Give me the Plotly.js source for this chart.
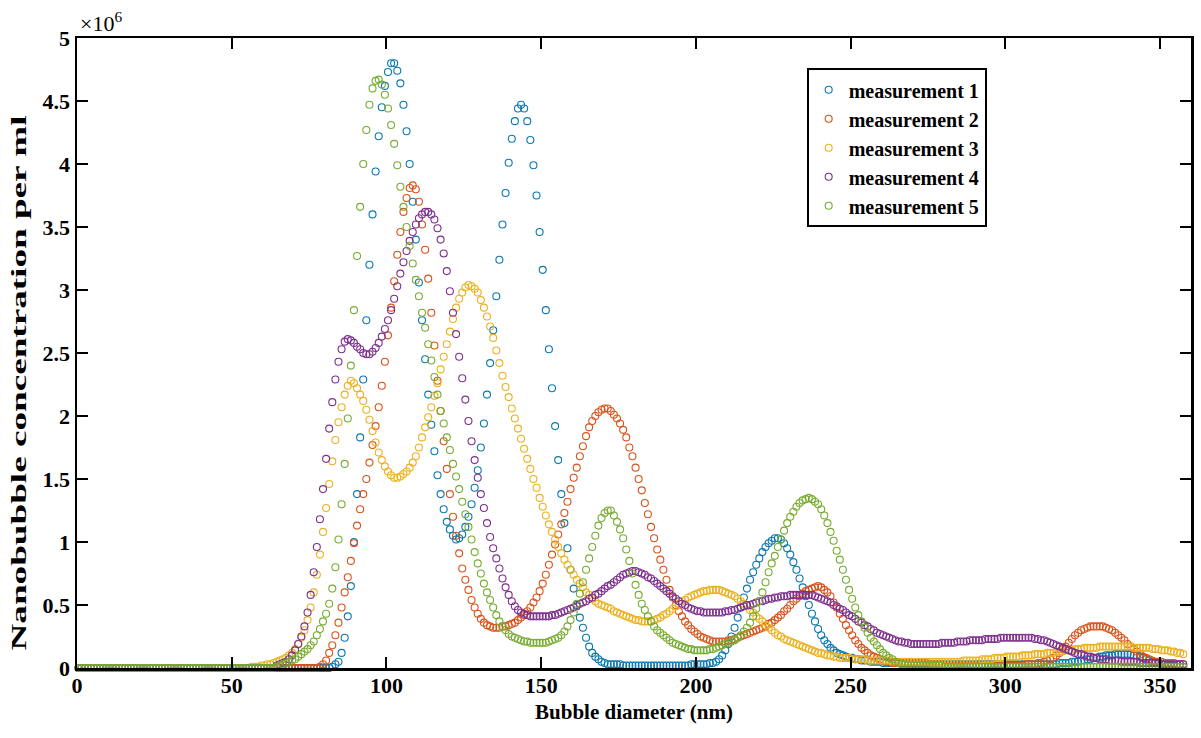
<!DOCTYPE html>
<html>
<head>
<meta charset="utf-8">
<script src="https://cdn.plot.ly/plotly-3.0.1.min.js"></script>
<style>
  html, body { margin: 0; padding: 0; background: #ffffff; }
  #chart { width: 1201px; height: 738px; }
</style>
</head>
<body>
<div id="chart"></div>
<script>
// Bubble diameter bins (nm): first bin centre and bin width
const DIAMETER_START = 0.5;
const DIAMETER_STEP = 1;

const seriesNames = ["measurement 1", "measurement 2", "measurement 3", "measurement 4", "measurement 5"];
const seriesColors = ["#0a78b0", "#D95319", "#EDB120", "#7E2F8E", "#77AC30"];

// Concentration values in units of 10^6 per ml, one value per 1 nm bin
const measurement1 = [
0,0,0,0,0,0,0,0,0,0,
0,0,0,0,0,0,0,0,0,0,
0,0,0,0,0,0,0,0,0,0,
0,0,0,0,0,0,0,0,0,0,
0,0,0,0,0,0,0,0,0,0,
0,0,0,0,0,0,0,0,0,0,
0,0,0,0,0,0,0,0,0,0,
0,0,0,0,0,0,0,0,0,0,
0,0,0.01,0.03,0.05,0.12,0.24,0.41,0.65,1.00,
1.38,1.83,2.29,2.76,3.20,3.60,3.94,4.22,4.45,4.62,
4.73,4.80,4.80,4.74,4.64,4.47,4.26,4.00,3.70,3.40,
3.06,2.76,2.45,2.17,1.93,1.72,1.53,1.38,1.26,1.16,
1.10,1.05,1.02,1.03,1.06,1.12,1.20,1.30,1.43,1.57,
1.75,1.94,2.17,2.42,2.68,2.95,3.24,3.52,3.77,4.01,
4.20,4.34,4.44,4.47,4.44,4.34,4.19,3.99,3.75,3.46,
3.16,2.84,2.53,2.22,1.92,1.65,1.38,1.15,0.95,0.78,
0.63,0.50,0.40,0.32,0.24,0.17,0.12,0.09,0.07,0.05,
0.04,0.03,0.03,0.03,0.03,0.03,0.02,0.02,0.02,0.02,
0.02,0.02,0.02,0.02,0.02,0.02,0.02,0.02,0.02,0.02,
0.02,0.02,0.02,0.02,0.02,0.02,0.02,0.02,0.03,0.03,
0.03,0.03,0.03,0.03,0.04,0.04,0.05,0.07,0.10,0.14,
0.19,0.25,0.32,0.40,0.48,0.56,0.63,0.70,0.76,0.82,
0.87,0.92,0.96,0.99,1.01,1.03,1.03,1.02,0.99,0.95,
0.90,0.84,0.78,0.71,0.64,0.57,0.50,0.43,0.37,0.31,
0.26,0.22,0.19,0.16,0.14,0.12,0.11,0.10,0.09,0.08,
0.08,0.07,0.07,0.06,0.06,0.06,0.05,0.05,0.05,0.05,
0.04,0.04,0.04,0.04,0.04,0.04,0.04,0.04,0.04,0.04,
0.04,0.04,0.04,0.04,0.04,0.03,0.03,0.03,0.03,0.03,
0.03,0.03,0.03,0.03,0.03,0.03,0.03,0.03,0.03,0.03,
0.03,0.03,0.03,0.03,0.03,0.03,0.03,0.03,0.03,0.03,
0.03,0.03,0.03,0.03,0.03,0.03,0.03,0.03,0.03,0.03,
0.03,0.03,0.03,0.03,0.03,0.03,0.03,0.04,0.04,0.04,
0.04,0.05,0.05,0.05,0.06,0.06,0.07,0.07,0.08,0.08,
0.09,0.09,0.10,0.10,0.10,0.11,0.11,0.11,0.11,0.11,
0.11,0.10,0.10,0.09,0.08,0.07,0.06,0.05,0.04,0.04,
0.03,0.03,0.02,0.02,0.02,0.01,0.01,0.01
];

const measurement2 = [
0,0,0,0,0,0,0,0,0,0,
0,0,0,0,0,0,0,0,0,0,
0,0,0,0,0,0,0,0,0,0,
0,0,0,0,0,0,0,0,0,0,
0,0,0,0,0,0,0,0,0,0,
0,0,0,0,0,0,0,0,0,0,
0,0,0,0,0,0,0,0,0,0,
0,0,0,0,0,0,0,0,0.01,0.03,
0.06,0.12,0.18,0.26,0.36,0.48,0.60,0.72,0.85,0.99,
1.13,1.26,1.38,1.50,1.63,1.77,1.92,2.07,2.24,2.43,
2.64,2.86,3.07,3.28,3.46,3.62,3.73,3.81,3.83,3.80,
3.70,3.52,3.32,3.09,2.82,2.56,2.28,2.04,1.80,1.58,
1.38,1.20,1.05,0.91,0.79,0.70,0.62,0.54,0.48,0.43,
0.39,0.36,0.34,0.33,0.32,0.32,0.32,0.33,0.33,0.34,
0.35,0.36,0.38,0.40,0.42,0.45,0.48,0.52,0.56,0.61,
0.67,0.74,0.82,0.90,0.98,1.06,1.14,1.23,1.32,1.42,
1.51,1.59,1.68,1.76,1.84,1.91,1.96,2.00,2.03,2.05,
2.06,2.06,2.04,2.01,1.98,1.94,1.89,1.83,1.75,1.68,
1.59,1.50,1.41,1.31,1.22,1.12,1.03,0.94,0.86,0.78,
0.70,0.62,0.56,0.50,0.45,0.41,0.37,0.34,0.31,0.29,
0.27,0.25,0.24,0.23,0.22,0.21,0.21,0.21,0.21,0.21,
0.22,0.22,0.23,0.24,0.25,0.26,0.27,0.28,0.29,0.30,
0.31,0.32,0.33,0.35,0.36,0.38,0.40,0.42,0.45,0.47,
0.50,0.53,0.55,0.57,0.59,0.61,0.62,0.63,0.64,0.65,
0.64,0.62,0.60,0.57,0.52,0.48,0.43,0.39,0.34,0.30,
0.26,0.22,0.19,0.16,0.14,0.12,0.10,0.09,0.08,0.07,
0.06,0.05,0.05,0.04,0.04,0.04,0.03,0.03,0.03,0.03,
0.03,0.03,0.03,0.03,0.03,0.03,0.03,0.03,0.03,0.03,
0.02,0.02,0.02,0.02,0.02,0.02,0.02,0.02,0.02,0.02,
0.02,0.02,0.02,0.02,0.02,0.02,0.02,0.02,0.02,0.02,
0.02,0.02,0.02,0.02,0.02,0.02,0.03,0.03,0.03,0.03,
0.04,0.04,0.05,0.06,0.07,0.08,0.10,0.12,0.15,0.17,
0.20,0.23,0.26,0.28,0.30,0.31,0.32,0.33,0.33,0.33,
0.33,0.33,0.32,0.31,0.30,0.28,0.26,0.24,0.22,0.19,
0.17,0.15,0.13,0.11,0.09,0.08,0.07,0.06,0.05,0.05,
0.05,0.04,0.04,0.04,0.04,0.03,0.03,0.03
];

const measurement3 = [
0,0,0,0,0,0,0,0,0,0,
0,0,0,0,0,0,0,0,0,0,
0,0,0,0,0,0,0,0,0,0,
0,0,0,0,0,0,0,0,0,0,
0,0,0,0,0,0,0,0,0,0,
0,0,0,0,0,0,0.01,0.01,0.01,0.02,
0.02,0.03,0.03,0.04,0.05,0.06,0.07,0.08,0.10,0.12,
0.15,0.19,0.24,0.30,0.38,0.48,0.60,0.74,0.90,1.08,
1.27,1.46,1.64,1.81,1.95,2.07,2.17,2.24,2.28,2.26,
2.22,2.17,2.12,2.05,1.97,1.88,1.79,1.71,1.65,1.60,
1.56,1.53,1.51,1.51,1.52,1.54,1.56,1.59,1.63,1.68,
1.75,1.83,1.91,1.99,2.07,2.16,2.26,2.37,2.47,2.57,
2.67,2.77,2.86,2.93,2.98,3.02,3.04,3.03,3.01,2.98,
2.92,2.86,2.79,2.71,2.62,2.52,2.42,2.32,2.23,2.15,
2.06,1.98,1.90,1.82,1.74,1.66,1.58,1.50,1.43,1.35,
1.28,1.21,1.14,1.08,1.02,0.96,0.91,0.86,0.82,0.78,
0.74,0.70,0.67,0.64,0.60,0.58,0.55,0.53,0.51,0.50,
0.49,0.48,0.47,0.45,0.44,0.43,0.42,0.41,0.40,0.39,
0.38,0.38,0.37,0.37,0.37,0.37,0.38,0.39,0.40,0.42,
0.43,0.45,0.47,0.49,0.51,0.53,0.54,0.56,0.57,0.58,
0.59,0.60,0.61,0.61,0.62,0.62,0.62,0.62,0.61,0.60,
0.59,0.58,0.57,0.55,0.53,0.51,0.49,0.46,0.44,0.41,
0.39,0.37,0.34,0.32,0.30,0.28,0.26,0.25,0.23,0.22,
0.21,0.20,0.19,0.18,0.17,0.16,0.15,0.14,0.13,0.12,
0.12,0.11,0.10,0.10,0.09,0.09,0.08,0.08,0.08,0.08,
0.07,0.07,0.07,0.07,0.07,0.06,0.06,0.06,0.06,0.06,
0.06,0.06,0.06,0.05,0.05,0.05,0.05,0.05,0.05,0.05,
0.05,0.05,0.05,0.05,0.05,0.05,0.05,0.05,0.05,0.05,
0.05,0.05,0.05,0.05,0.05,0.05,0.06,0.06,0.06,0.06,
0.06,0.06,0.07,0.07,0.07,0.07,0.08,0.08,0.08,0.08,
0.09,0.09,0.09,0.09,0.09,0.10,0.10,0.10,0.10,0.11,
0.11,0.11,0.11,0.12,0.12,0.12,0.13,0.13,0.13,0.14,
0.14,0.14,0.15,0.15,0.15,0.16,0.16,0.16,0.16,0.16,
0.17,0.17,0.17,0.17,0.17,0.17,0.17,0.17,0.17,0.17,
0.17,0.16,0.16,0.16,0.16,0.16,0.16,0.15,0.15,0.15,
0.14,0.14,0.14,0.13,0.13,0.12,0.12,0.11
];

const measurement4 = [
0,0,0,0,0,0,0,0,0,0,
0,0,0,0,0,0,0,0,0,0,
0,0,0,0,0,0,0,0,0,0,
0,0,0,0,0,0,0,0,0,0,
0,0,0,0,0,0,0,0,0,0,
0,0,0,0,0,0,0,0,0,0,
0,0,0,0,0.02,0.03,0.04,0.05,0.07,0.10,
0.14,0.19,0.25,0.33,0.44,0.58,0.76,0.96,1.18,1.42,
1.66,1.90,2.11,2.29,2.43,2.53,2.59,2.61,2.60,2.58,
2.55,2.53,2.50,2.49,2.49,2.51,2.54,2.58,2.63,2.69,
2.76,2.84,2.93,3.03,3.13,3.22,3.31,3.39,3.46,3.52,
3.57,3.60,3.62,3.62,3.60,3.56,3.49,3.40,3.29,3.15,
2.99,2.82,2.65,2.47,2.30,2.13,1.96,1.80,1.65,1.51,
1.38,1.27,1.15,1.04,0.95,0.87,0.79,0.71,0.64,0.58,
0.53,0.49,0.46,0.44,0.43,0.42,0.41,0.41,0.41,0.41,
0.41,0.41,0.41,0.42,0.42,0.43,0.44,0.45,0.46,0.47,
0.48,0.49,0.51,0.52,0.53,0.55,0.56,0.58,0.59,0.61,
0.63,0.65,0.66,0.68,0.70,0.72,0.74,0.75,0.76,0.77,
0.77,0.76,0.75,0.74,0.72,0.71,0.69,0.67,0.65,0.63,
0.61,0.59,0.57,0.55,0.53,0.51,0.50,0.48,0.47,0.46,
0.45,0.45,0.44,0.44,0.44,0.44,0.44,0.44,0.44,0.45,
0.45,0.46,0.46,0.47,0.48,0.49,0.50,0.50,0.51,0.52,
0.53,0.53,0.54,0.55,0.55,0.56,0.56,0.57,0.57,0.57,
0.58,0.58,0.58,0.58,0.58,0.58,0.58,0.58,0.57,0.56,
0.55,0.54,0.53,0.52,0.50,0.49,0.47,0.46,0.44,0.42,
0.41,0.39,0.37,0.36,0.34,0.33,0.31,0.30,0.28,0.27,
0.26,0.25,0.24,0.23,0.22,0.21,0.21,0.20,0.20,0.19,
0.19,0.19,0.19,0.19,0.19,0.19,0.19,0.19,0.19,0.20,
0.20,0.20,0.20,0.20,0.21,0.21,0.21,0.21,0.22,0.22,
0.22,0.22,0.22,0.23,0.23,0.23,0.23,0.23,0.24,0.24,
0.24,0.24,0.24,0.24,0.24,0.24,0.24,0.24,0.24,0.23,
0.23,0.22,0.22,0.21,0.20,0.19,0.18,0.17,0.16,0.15,
0.14,0.13,0.12,0.11,0.11,0.10,0.09,0.09,0.08,0.08,
0.07,0.07,0.07,0.06,0.06,0.06,0.06,0.05,0.05,0.05,
0.05,0.05,0.05,0.04,0.04,0.04,0.04,0.04,0.04,0.04,
0.03,0.03,0.03,0.03,0.03,0.03,0.03,0.03
];

const measurement5 = [
0,0,0,0,0,0,0,0,0,0,
0,0,0,0,0,0,0,0,0,0,
0,0,0,0,0,0,0,0,0,0,
0,0,0,0,0,0,0,0,0,0,
0,0,0,0,0,0,0,0,0,0,
0,0,0,0,0,0,0,0,0,0,
0,0,0,0,0.01,0.02,0.03,0.04,0.05,0.06,
0.07,0.09,0.11,0.13,0.15,0.18,0.21,0.26,0.31,0.37,
0.43,0.51,0.63,0.80,1.02,1.30,1.62,1.98,2.40,2.84,
3.27,3.66,4.00,4.27,4.47,4.60,4.66,4.67,4.63,4.55,
4.44,4.31,4.16,3.99,3.82,3.66,3.50,3.35,3.21,3.08,
2.95,2.82,2.70,2.57,2.44,2.31,2.17,2.04,1.94,1.83,
1.73,1.62,1.52,1.42,1.32,1.22,1.12,1.02,0.92,0.83,
0.75,0.67,0.60,0.54,0.48,0.42,0.37,0.33,0.30,0.27,
0.25,0.24,0.23,0.22,0.21,0.21,0.20,0.20,0.20,0.20,
0.20,0.20,0.21,0.22,0.23,0.24,0.26,0.29,0.33,0.38,
0.44,0.51,0.59,0.68,0.78,0.87,0.96,1.05,1.13,1.19,
1.23,1.25,1.25,1.21,1.16,1.10,1.03,0.94,0.85,0.75,
0.66,0.58,0.51,0.46,0.41,0.37,0.33,0.30,0.28,0.26,
0.24,0.22,0.20,0.19,0.18,0.17,0.16,0.15,0.15,0.14,
0.14,0.14,0.14,0.14,0.15,0.15,0.16,0.17,0.18,0.19,
0.20,0.21,0.22,0.24,0.26,0.29,0.32,0.36,0.41,0.47,
0.53,0.60,0.68,0.76,0.83,0.89,0.96,1.02,1.09,1.15,
1.20,1.24,1.28,1.31,1.33,1.34,1.35,1.34,1.32,1.30,
1.26,1.21,1.15,1.08,1.01,0.93,0.86,0.78,0.70,0.62,
0.55,0.48,0.42,0.37,0.32,0.28,0.24,0.21,0.18,0.15,
0.12,0.10,0.08,0.07,0.05,0.04,0.03,0.03,0.02,0.02,
0.02,0.02,0.02,0.02,0.02,0.02,0.02,0.02,0.02,0.02,
0.01,0.01,0.01,0.01,0.01,0.01,0.01,0.01,0.01,0.01,
0.01,0.01,0.01,0.01,0.01,0.01,0.01,0.01,0.01,0.01,
0.01,0.01,0.01,0.01,0.01,0.01,0.01,0.01,0.01,0.01,
0.01,0.01,0.01,0.01,0.01,0.01,0.01,0.01,0.01,0.01,
0.01,0.01,0.01,0.01,0.01,0.01,0.01,0.01,0.01,0.01,
0.01,0.01,0.01,0.01,0.01,0.01,0.01,0.01,0.01,0.01,
0.01,0.01,0.01,0.01,0.01,0.01,0.01,0.01,0.01,0.01,
0.01,0.01,0.01,0.01,0.01,0.01,0.01,0.01
];

const allSeries = [measurement1, measurement2, measurement3, measurement4, measurement5];

const xTickValues = [0, 50, 100, 150, 200, 250, 300, 350];
const yTickValues = [0, 0.5, 1, 1.5, 2, 2.5, 3, 3.5, 4, 4.5, 5];

const xTitle = "Bubble diameter (nm)";
const yTitle = "Nanobubble concentration per ml";
const exponentLabel = "\u00d710<sup>6</sup>";

const SERIF = "'Liberation Serif', 'Times New Roman', serif";

const traces = allSeries.map((vals, i) => ({
  type: "scatter",
  mode: "markers",
  name: seriesNames[i],
  x0: DIAMETER_START,
  dx: DIAMETER_STEP,
  y: vals,
  cliponaxis: false,
  marker: {
    symbol: "circle-open",
    size: 7,
    color: seriesColors[i],
    line: { width: 1.1, color: seriesColors[i] }
  }
}));

const axisCommon = {
  showline: true,
  linecolor: "#000000",
  linewidth: 2.5,
  mirror: "allticks",
  ticks: "inside",
  ticklen: 11,
  tickwidth: 2,
  tickcolor: "#000000",
  showgrid: false,
  zeroline: false,
  tickfont: { family: SERIF, size: 22, color: "#000000", weight: "bold" }
};

const layout = {
  width: 1201,
  height: 738,
  margin: { l: 77, r: 10, t: 38, b: 70, pad: 0 },
  paper_bgcolor: "#ffffff",
  plot_bgcolor: "#ffffff",
  showlegend: true,
  xaxis: Object.assign({}, axisCommon, {
    range: [0, 360],
    tickvals: xTickValues,
    ticktext: xTickValues.map(String),
    ticklabelstandoff: -4,
    title: { text: xTitle, font: { family: SERIF, size: 21, color: "#000000", weight: "bold" }, standoff: 8 }
  }),
  yaxis: Object.assign({}, axisCommon, {
    range: [0, 5],
    tickvals: yTickValues,
    ticktext: yTickValues.map(String),
    title: { text: yTitle, font: { family: SERIF, size: 21, color: "#000000", weight: "bold" }, standoff: 10 }
  }),
  legend: {
    x: 0.655, y: 0.952, xanchor: "left", yanchor: "top",
    bgcolor: "#ffffff",
    bordercolor: "#000000",
    borderwidth: 2,
    font: { family: SERIF, size: 20, color: "#000000", weight: "bold" },
    itemwidth: 30,
    tracegroupgap: 0
  },
  annotations: [{
    xref: "paper", yref: "paper", x: 0, y: 1,
    xanchor: "left", yanchor: "bottom", xshift: 1, yshift: 0,
    text: exponentLabel, showarrow: false,
    font: { family: SERIF, size: 22, color: "#000000" }
  }]
};

Plotly.newPlot("chart", traces, layout, { staticPlot: true, displayModeBar: false }).then(gd => {
  // the reference draws the y-axis title stretched along its length
  const t = gd.querySelector(".g-ytitle text");
  if (t) {
    const x = parseFloat(t.getAttribute("x"));
    const y = parseFloat(t.getAttribute("y"));
    const S = 1.77;
    t.setAttribute("transform",
      "translate(0,30) rotate(-90," + x + "," + y + ") translate(" + x + "," + y + ") scale(" + S + ",1) translate(" + (-x) + "," + (-y) + ")");
  }
});
</script>
</body>
</html>
